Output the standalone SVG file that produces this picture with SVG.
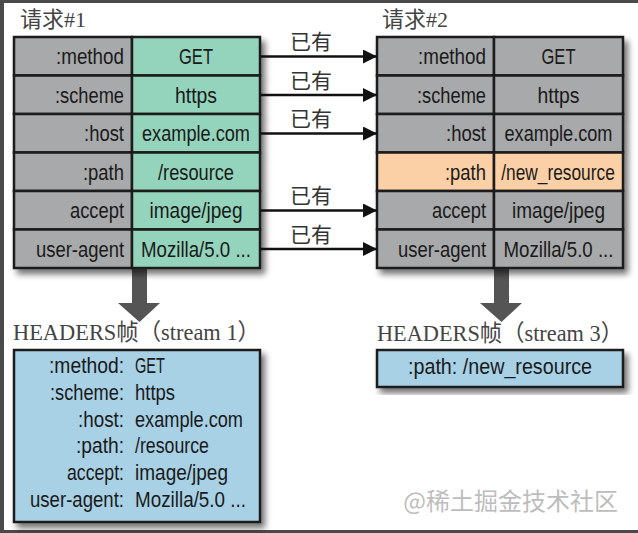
<svg xmlns="http://www.w3.org/2000/svg" width="638" height="533" viewBox="0 0 638 533">
<defs>
<filter id="sh" x="-10%" y="-10%" width="125%" height="130%">
<feGaussianBlur in="SourceAlpha" stdDeviation="3"/>
<feOffset dx="4" dy="5" result="b"/>
<feComponentTransfer><feFuncA type="linear" slope="0.55"/></feComponentTransfer>
<feMerge><feMergeNode/><feMergeNode in="SourceGraphic"/></feMerge>
</filter>
<marker id="ah" markerUnits="userSpaceOnUse" markerWidth="16" markerHeight="16" refX="14" refY="7" orient="auto">
<path d="M0,0 L14,7 L0,14 Z" fill="#111"/>
</marker>
</defs>
<style>
.cell{stroke:#1a1a1a;stroke-width:2.5}
.g{fill:#a8a9ab}.gr{fill:#94d4bc}.or{fill:#fbd0a6}.bl{fill:#a8d1e5}
.t{font-family:"Liberation Sans",Arial,sans-serif;font-size:22.5px;fill:#1a1a1a}
.s{font-size:21.5px}
.r{text-anchor:end}.m{text-anchor:middle}
.cn{font-family:"Noto Sans CJK SC",sans-serif;font-size:21px;fill:#333}
.ti{font-family:"Liberation Serif","Noto Sans CJK SC",serif;font-size:22px;fill:#444}
.conn{stroke:#111;stroke-width:2.5;fill:none}
.big{fill:#555}
.wm{font-family:"Noto Sans CJK SC",sans-serif;font-size:24px;fill:#bdbdbd}
</style>
<rect x="0" y="0" width="638" height="533" fill="#fff"/>
<rect x="0" y="0" width="4" height="533" fill="#4a4a4a"/>
<rect x="0" y="0" width="638" height="3" fill="#4a4a4a"/>
<rect x="0" y="530" width="638" height="3" fill="#4a4a4a"/>

<text class="ti" x="20" y="27">请求#1</text>
<text class="ti" x="382" y="27">请求#2</text>

<g id="bigarrows">
<path class="big" d="M132,268 H147 V303 H160 L139.5,322 L118,303 H132 Z"/>
<path class="big" d="M494,268 H509 V303 H522 L501.5,322 L480,303 H494 Z"/>
</g>

<g id="request1" filter="url(#sh)">
<rect class="cell g" x="14" y="37" width="118" height="38.5"/><rect class="cell gr" x="132" y="37" width="128" height="38.5"/>
<rect class="cell g" x="14" y="75.5" width="118" height="38.5"/><rect class="cell gr" x="132" y="75.5" width="128" height="38.5"/>
<rect class="cell g" x="14" y="114" width="118" height="38.5"/><rect class="cell gr" x="132" y="114" width="128" height="38.5"/>
<rect class="cell g" x="14" y="152.5" width="118" height="38.5"/><rect class="cell gr" x="132" y="152.5" width="128" height="38.5"/>
<rect class="cell g" x="14" y="191" width="118" height="38.5"/><rect class="cell gr" x="132" y="191" width="128" height="38.5"/>
<rect class="cell g" x="14" y="229.5" width="118" height="38.5"/><rect class="cell gr" x="132" y="229.5" width="128" height="38.5"/>
</g>
<g id="request1-text">
<text class="t r" x="124" y="64" textLength="68" lengthAdjust="spacingAndGlyphs">:method</text><text class="t m" x="196" y="64" textLength="34" lengthAdjust="spacingAndGlyphs">GET</text>
<text class="t r" x="124" y="102.5" textLength="69" lengthAdjust="spacingAndGlyphs">:scheme</text><text class="t m" x="196" y="102.5" textLength="42" lengthAdjust="spacingAndGlyphs">https</text>
<text class="t r" x="124" y="141" textLength="40" lengthAdjust="spacingAndGlyphs">:host</text><text class="t m" x="196" y="141" textLength="108" lengthAdjust="spacingAndGlyphs">example.com</text>
<text class="t r" x="124" y="179.5" textLength="41" lengthAdjust="spacingAndGlyphs">:path</text><text class="t m" x="196" y="179.5" textLength="76" lengthAdjust="spacingAndGlyphs">/resource</text>
<text class="t r" x="124" y="218" textLength="54" lengthAdjust="spacingAndGlyphs">accept</text><text class="t m" x="196" y="218" textLength="93" lengthAdjust="spacingAndGlyphs">image/jpeg</text>
<text class="t r" x="124" y="256.5" textLength="88" lengthAdjust="spacingAndGlyphs">user-agent</text><text class="t m" x="196" y="256.5" textLength="110" lengthAdjust="spacingAndGlyphs">Mozilla/5.0 ...</text>
</g>

<g id="request2" filter="url(#sh)">
<rect class="cell g" x="377" y="37" width="117" height="38.5"/><rect class="cell g" x="494" y="37" width="129" height="38.5"/>
<rect class="cell g" x="377" y="75.5" width="117" height="38.5"/><rect class="cell g" x="494" y="75.5" width="129" height="38.5"/>
<rect class="cell g" x="377" y="114" width="117" height="38.5"/><rect class="cell g" x="494" y="114" width="129" height="38.5"/>
<rect class="cell or" x="377" y="152.5" width="117" height="38.5"/><rect class="cell or" x="494" y="152.5" width="129" height="38.5"/>
<rect class="cell g" x="377" y="191" width="117" height="38.5"/><rect class="cell g" x="494" y="191" width="129" height="38.5"/>
<rect class="cell g" x="377" y="229.5" width="117" height="38.5"/><rect class="cell g" x="494" y="229.5" width="129" height="38.5"/>
</g>
<g id="request2-text">
<text class="t r" x="486" y="64" textLength="68" lengthAdjust="spacingAndGlyphs">:method</text><text class="t m" x="558.5" y="64" textLength="34" lengthAdjust="spacingAndGlyphs">GET</text>
<text class="t r" x="486" y="102.5" textLength="69" lengthAdjust="spacingAndGlyphs">:scheme</text><text class="t m" x="558.5" y="102.5" textLength="42" lengthAdjust="spacingAndGlyphs">https</text>
<text class="t r" x="486" y="141" textLength="40" lengthAdjust="spacingAndGlyphs">:host</text><text class="t m" x="558.5" y="141" textLength="108" lengthAdjust="spacingAndGlyphs">example.com</text>
<text class="t r" x="486" y="179.5" textLength="41" lengthAdjust="spacingAndGlyphs">:path</text><text class="t m" transform="translate(558 179.5) scale(0.77 1)" x="0" y="0">/new_resource</text>
<text class="t r" x="486" y="218" textLength="54" lengthAdjust="spacingAndGlyphs">accept</text><text class="t m" x="558.5" y="218" textLength="93" lengthAdjust="spacingAndGlyphs">image/jpeg</text>
<text class="t r" x="486" y="256.5" textLength="88" lengthAdjust="spacingAndGlyphs">user-agent</text><text class="t m" x="558.5" y="256.5" textLength="110" lengthAdjust="spacingAndGlyphs">Mozilla/5.0 ...</text>
</g>

<g id="connectors">
<line class="conn" x1="260" y1="56.5" x2="377" y2="56.5" marker-end="url(#ah)"/>
<line class="conn" x1="260" y1="95" x2="377" y2="95" marker-end="url(#ah)"/>
<line class="conn" x1="260" y1="133.5" x2="377" y2="133.5" marker-end="url(#ah)"/>
<line class="conn" x1="260" y1="210.5" x2="377" y2="210.5" marker-end="url(#ah)"/>
<line class="conn" x1="260" y1="249" x2="377" y2="249" marker-end="url(#ah)"/>
<text class="cn m" x="311" y="49">已有</text>
<text class="cn m" x="311" y="87.5">已有</text>
<text class="cn m" x="311" y="126">已有</text>
<text class="cn m" x="311" y="203">已有</text>
<text class="cn m" x="311" y="241.5">已有</text>
</g>

<g id="frame1">
<text class="ti" x="13" y="340" style="font-size:23px" textLength="247" lengthAdjust="spacingAndGlyphs">HEADERS帧（stream 1）</text>
<rect class="cell bl" x="14" y="350" width="246" height="172" filter="url(#sh)"/>
<text class="t s r" x="124" y="373" textLength="75" lengthAdjust="spacingAndGlyphs">:method:</text><text class="t s" x="135" y="373" textLength="30" lengthAdjust="spacingAndGlyphs">GET</text>
<text class="t s r" x="124" y="399.8" textLength="74" lengthAdjust="spacingAndGlyphs">:scheme:</text><text class="t s" x="135" y="399.8" textLength="40" lengthAdjust="spacingAndGlyphs">https</text>
<text class="t s r" x="124" y="426.6" textLength="46" lengthAdjust="spacingAndGlyphs">:host:</text><text class="t s" x="135" y="426.6" textLength="108" lengthAdjust="spacingAndGlyphs">example.com</text>
<text class="t s r" x="124" y="453.4" textLength="48" lengthAdjust="spacingAndGlyphs">:path:</text><text class="t s" x="135" y="453.4" textLength="74" lengthAdjust="spacingAndGlyphs">/resource</text>
<text class="t s r" x="124" y="480.2" textLength="57" lengthAdjust="spacingAndGlyphs">accept:</text><text class="t s" x="135" y="480.2" textLength="93" lengthAdjust="spacingAndGlyphs">image/jpeg</text>
<text class="t s r" x="124" y="507" textLength="94" lengthAdjust="spacingAndGlyphs">user-agent:</text><text class="t s" x="135" y="507" textLength="111" lengthAdjust="spacingAndGlyphs">Mozilla/5.0 ...</text>
</g>

<g id="frame3">
<text class="ti" x="377" y="341" style="font-size:23px" textLength="246" lengthAdjust="spacingAndGlyphs">HEADERS帧（stream 3）</text>
<rect class="cell bl" x="377" y="350" width="246" height="37" filter="url(#sh)"/>
<text class="t" x="408" y="374" textLength="184" lengthAdjust="spacingAndGlyphs">:path:  /new_resource</text>
</g>

<text class="wm" x="618" y="510" text-anchor="end">@稀土掘金技术社区</text>
</svg>
